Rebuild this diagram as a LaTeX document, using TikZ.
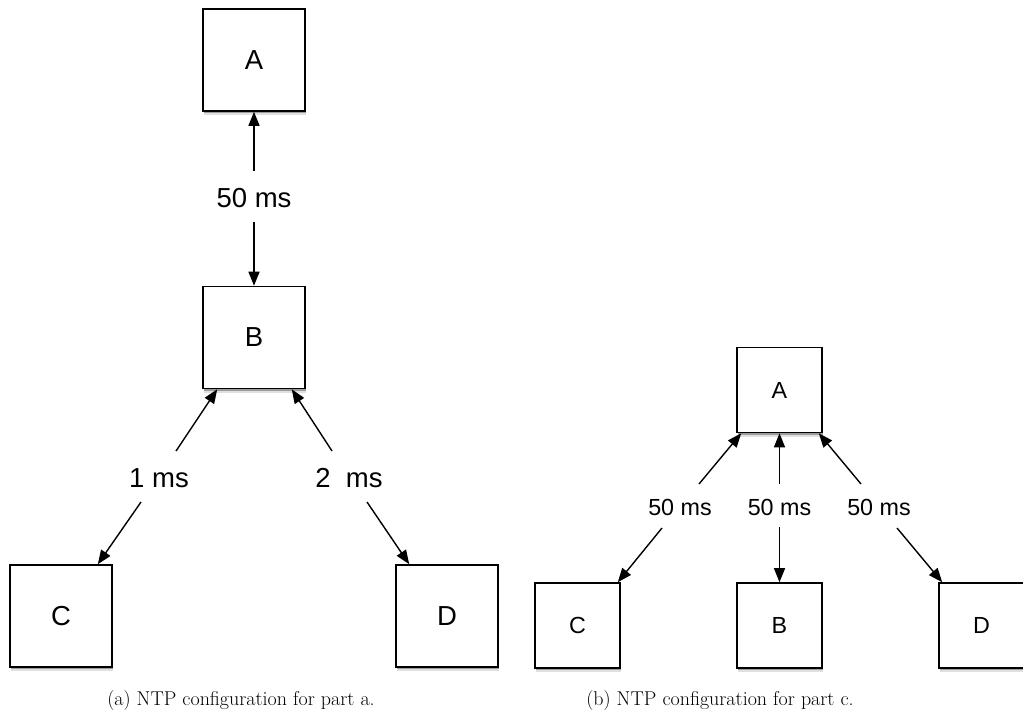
\documentclass[tikz,border=0pt]{standalone}
\usepackage{fontspec}
\newfontfamily\arialfont{Liberation Sans}
\usetikzlibrary{arrows.meta,shadows}
\tikzset{
  boxbig/.style={draw, line width=1.6pt, fill=white, minimum width=102pt, minimum height=102pt, inner sep=0pt,
    general shadow={shadow xshift=0.8pt, shadow yshift=-4pt, opacity=0.12, fill=black},
    drop shadow={shadow xshift=0.5pt, shadow yshift=-2.2pt, opacity=0.3, fill=black},
    font=\arialfont\fontsize{27.5}{32}\selectfont},
  boxsmall/.style={boxbig, minimum width=85pt, minimum height=85pt, font=\arialfont\fontsize{23.3}{27}\selectfont},
  lblbig/.style={inner sep=0pt, font=\arialfont\fontsize{27.5}{32}\selectfont},
  lblsmall/.style={inner sep=0pt, font=\arialfont\fontsize{23.3}{27}\selectfont},
  conn/.style={line width=1.4pt, -{Triangle[length=14pt,width=11pt]}},
  capt/.style={font=\fontsize{20}{24}\selectfont, inner sep=0pt}
}
\begin{document}
\begin{tikzpicture}[x=1pt,y=-1pt]
\useasboundingbox[fill=white] (0,0) rectangle (1023,726);
% ---- left figure ----
\node[boxbig] (lA) at (254,60) {A};
\node[boxbig] (lB) at (254,337.5) {B};
\node[boxbig] (lC) at (61,616) {C};
\node[boxbig] (lD) at (447,616) {D};
\node[lblbig] (lAB) at (254,198) {50 ms};
\node[lblbig] (lBC) at (159,478) {1 ms};
\node[lblbig] (lBD) at (349,478) {2\ \ ms};
\coordinate (p1) at (254,171);
\coordinate (p2) at (254,222);
\coordinate (p3) at (176,451);
\coordinate (p4) at (141,502);
\coordinate (p5) at (332,451);
\coordinate (p6) at (367,502);
\draw[conn] (p1) -- (lA.south);
\draw[conn] (p2) -- (lB.north);
\draw[conn] (p3) -- ([xshift=15pt]lB.south west);
\draw[conn] (p4) -- ([xshift=-15pt]lC.north east);
\draw[conn] (p5) -- ([xshift=-14pt]lB.south east);
\draw[conn] (p6) -- ([xshift=14pt]lD.north west);
% ---- right figure ----
\node[boxsmall] (rA) at (779.5,390) {A};
\node[boxsmall] (rC) at (577.5,625.5) {C};
\node[boxsmall] (rB) at (779.5,625.5) {B};
\node[boxsmall] (rD) at (981.5,625.5) {D};
\node[lblsmall] (rAC) at (680,507) {50 ms};
\node[lblsmall] (rAB) at (779.5,507) {50 ms};
\node[lblsmall] (rAD) at (879,507) {50 ms};
\coordinate (q1) at (699,484);
\coordinate (q2) at (662,528);
\coordinate (q3) at (779.5,484);
\coordinate (q4) at (779.5,527);
\coordinate (q5) at (861,484);
\coordinate (q6) at (897,528);
\draw[conn] (q1) -- ([xshift=5pt]rA.south west);
\draw[conn] (q2) -- ([xshift=-3pt]rC.north east);
\draw[conn] (q3) -- (rA.south);
\draw[conn] (q4) -- (rB.north);
\draw[conn] (q5) -- ([xshift=-4pt]rA.south east);
\draw[conn] (q6) -- ([xshift=4pt]rD.north west);
% ---- captions ----
\node[capt] (capa) at (241,701) {(a) NTP configuration for part a.};
\node[capt] (capb) at (720,701) {(b) NTP configuration for part c.};
\end{tikzpicture}
\end{document}
